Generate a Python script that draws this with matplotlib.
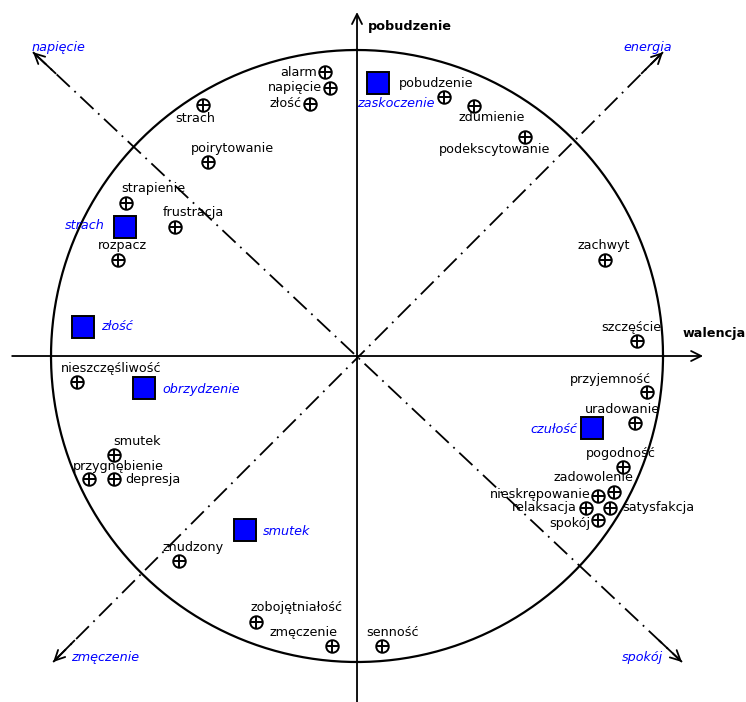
import numpy as np
import matplotlib.pyplot as plt

# Circumplex of affect (walencja x pobudzenie), radius of the circle = 1

# words (small crossed circles)
words = ['alarm', 'napięcie', 'złość', 'strach', 'poirytowanie', 'strapienie',
         'frustracja', 'rozpacz', 'pobudzenie', 'zdumienie', 'podekscytowanie',
         'zachwyt', 'szczęście', 'nieszczęśliwość', 'smutek', 'przygnębienie',
         'depresja', 'znudzony', 'zobojętniałość', 'zmęczenie', 'senność',
         'przyjemność', 'uradowanie', 'pogodność', 'zadowolenie',
         'nieskrępowanie', 'relaksacja', 'satysfakcja', 'spokój']
word_val = [-0.105, -0.088, -0.154, -0.503, -0.487, -0.755,
            -0.595, -0.781, 0.284, 0.382, 0.549,
            0.810, 0.915, -0.915, -0.794, -0.876,
            -0.794, -0.582, -0.330, -0.082, 0.082,
            0.948, 0.908, 0.869, 0.840,
            0.788, 0.748, 0.827, 0.788]
word_aro = [0.928, 0.876, 0.824, 0.820, 0.634, 0.500,
            0.422, 0.314, 0.846, 0.817, 0.716,
            0.314, 0.049, -0.085, -0.324, -0.402,
            -0.402, -0.670, -0.869, -0.948, -0.948,
            -0.118, -0.219, -0.363, -0.444,
            -0.458, -0.497, -0.497, -0.536]

# basic emotions (blue squares)
basic = ['zaskoczenie', 'strach', 'złość', 'obrzydzenie', 'czułość', 'smutek']
basic_val = [0.069, -0.758, -0.895, -0.696, 0.768, -0.366]
basic_aro = [0.892, 0.422, 0.095, -0.105, -0.235, -0.569]

# diagonal directions
diag_names = ['napięcie', 'energia', 'zmęczenie', 'spokój']

# label placement (pixel offsets, alignment)
word_lab = [(-8, 0, 'right'), (-8, 0, 'right'), (-8, 0, 'right'), (-8, -13, 'center'),
            (24, 13, 'center'), (27, 15, 'center'), (18, 14, 'center'), (4, 14, 'center'),
            (-8, 14, 'center'), (18, -12, 'center'), (-30, -13, 'center'),
            (-1, 14, 'center'), (-6, 14, 'center'), (34, 14, 'center'), (23, 14, 'center'),
            (29, 13, 'center'), (11, 0, 'left'), (14, 14, 'center'), (40, 14, 'center'),
            (-28, 14, 'center'), (10, 14, 'center'), (-37, 13, 'center'), (-12, 14, 'center'),
            (-2, 14, 'center'), (-21, 14, 'center'), (-8, 2, 'right'), (-9, 1, 'right'),
            (12, 1, 'left'), (-8, -3, 'right')]
basic_lab = [(18, -20, 'center'), (-20, 1, 'right'), (18, 0, 'left'),
             (18, -1, 'left'), (-15, -2, 'right'), (18, -1, 'left')]

fs = 9.2

fig = plt.figure(figsize=(7.46, 7.02), dpi=100)
ax = fig.add_axes([0, 0, 1, 1])
ax.set_xlim(-1.1667, 1.2712)
ax.set_ylim(-1.1307, 1.1634)
ax.axis('off')

t = np.linspace(0, 2 * np.pi, 400)
ax.plot(np.cos(t), np.sin(t), color='black', lw=1.6)

# main axes
arr = dict(arrowstyle='->', color='black', lw=1.3, mutation_scale=18, shrinkA=0, shrinkB=0)
ax.annotate('', xy=(1.131, 0), xytext=(-1.127, 0), arrowprops=arr)
ax.annotate('', xy=(0, 1.124), xytext=(0, -1.131), arrowprops=arr)
ax.text(0.036, 1.078, 'pobudzenie', fontsize=fs, fontweight='bold', va='center')
ax.text(1.065, 0.075, 'walencja', fontsize=fs, fontweight='bold', va='center')

# diagonals
ends = [(-1.059, 0.993), (1.0, 0.993), (-0.993, -1.0), (1.062, -1.0)]
dash = (0, (10, 3.5, 1, 3.5))
for a, b in [(0, 3), (2, 1)]:
    ax.plot([ends[a][0], ends[b][0]], [ends[a][1], ends[b][1]],
            color='black', lw=1.3, linestyle=dash)
for ex, ey in ends:
    ax.annotate('', xy=(ex, ey), xytext=(ex * 0.93, ey * 0.93), arrowprops=arr)
diag_txt = [(-1.065, 1.008, 'left'), (1.03, 1.008, 'right'),
            (-0.935, -0.985, 'left'), (1.0, -0.985, 'right')]
for name, (tx, ty, ha) in zip(diag_names, diag_txt):
    ax.text(tx, ty, name, color='#0000ff', style='italic', fontsize=fs, ha=ha, va='center')

# words
ax.plot(word_val, word_aro, 'o', ms=9, mfc='none', mec='black', mew=1.4)
ax.plot(word_val, word_aro, '+', ms=9, mec='black', mew=1.4)
for name, x, y, (dx, dy, ha) in zip(words, word_val, word_aro, word_lab):
    ax.annotate(name, (x, y), xytext=(dx, dy), textcoords='offset pixels',
                fontsize=fs, ha=ha, va='center')

# basic emotions
ax.plot(basic_val, basic_aro, 's', ms=16, mfc='#0000ff', mec='black', mew=1.4)
for name, x, y, (dx, dy, ha) in zip(basic, basic_val, basic_aro, basic_lab):
    ax.annotate(name, (x, y), xytext=(dx, dy), textcoords='offset pixels',
                fontsize=fs, ha=ha, va='center', color='#0000ff', style='italic')

fig.savefig('out.png', dpi=100)
